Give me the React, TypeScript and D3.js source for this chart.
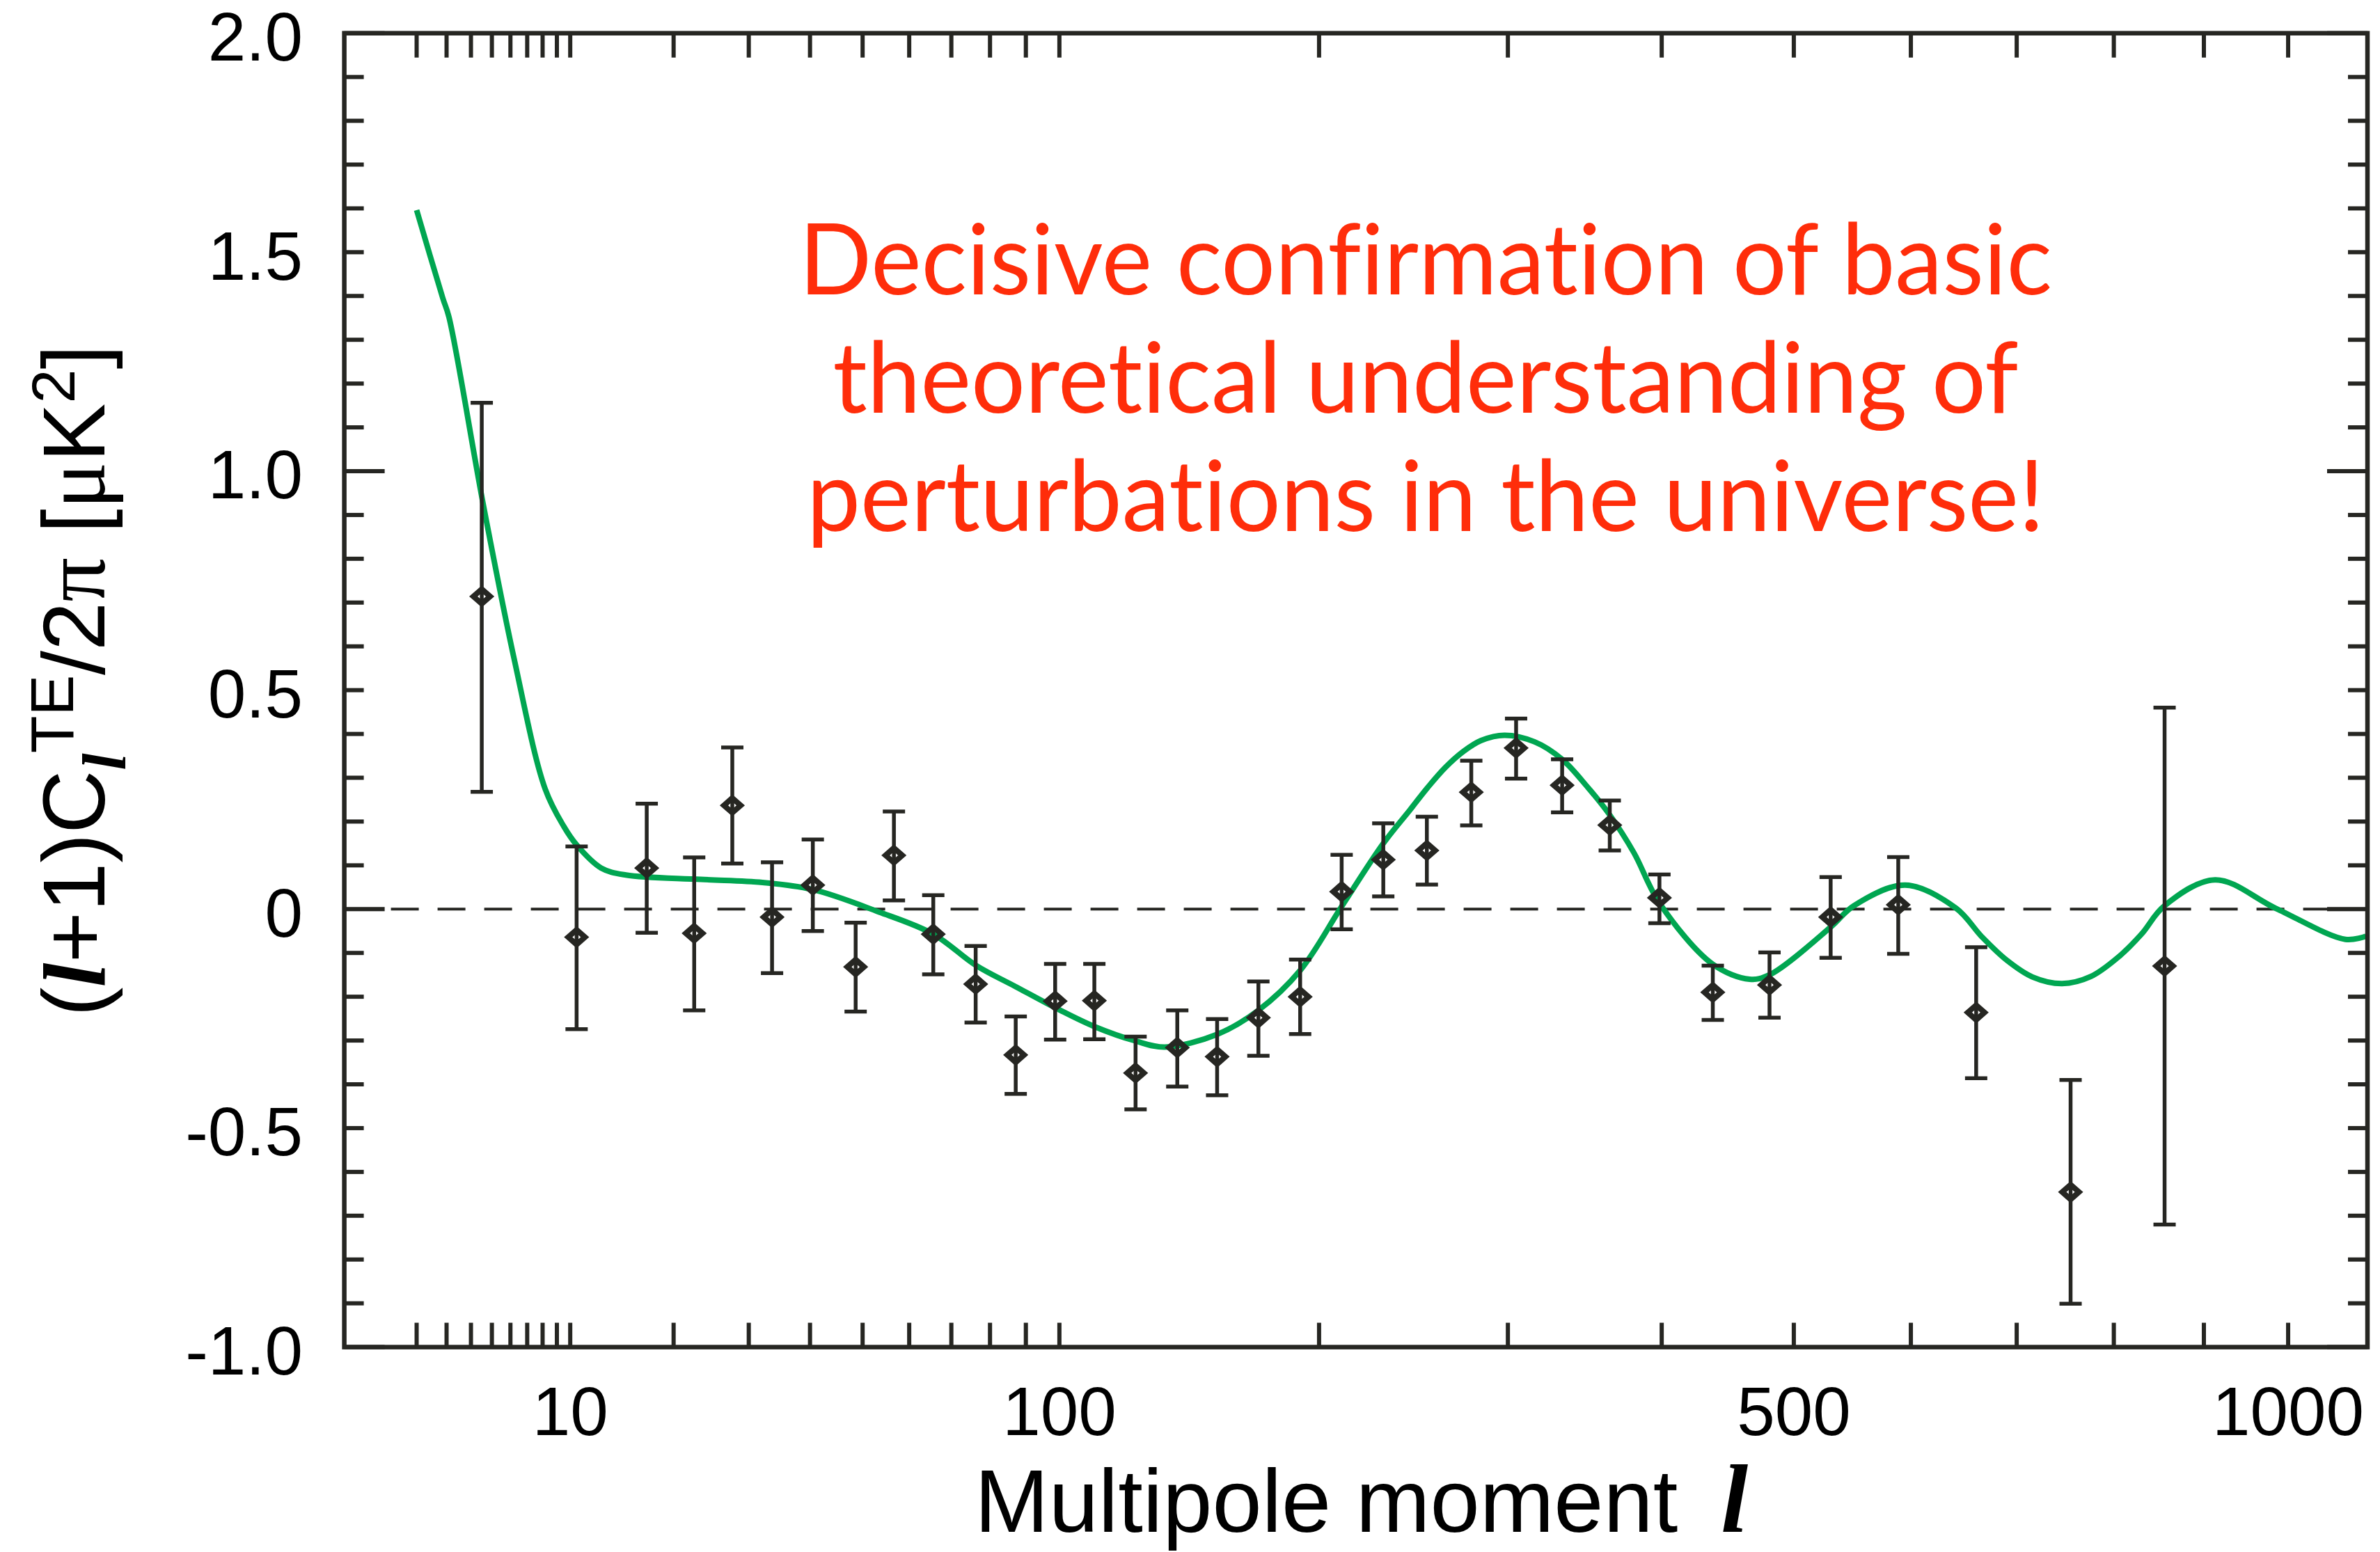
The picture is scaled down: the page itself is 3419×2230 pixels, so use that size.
import * as d3 from "d3"

// Binned TE cross-power data
const binL = [4.5, 10.5, 17.0, 22.5, 27.6, 33.6, 40.5, 48.6, 56.6, 65.6, 76.2, 87.1, 98.7, 111.1, 125.1, 140.3, 155.8, 172.9, 191.3, 210.7, 231.3, 254.1, 278.7, 304.9, 333.3, 364.3, 398.4, 437.1, 480.6, 530.3, 588.7, 660.6, 754.5, 855.5]
const binTE = [0.714, -0.064, 0.094, -0.055, 0.237, -0.018, 0.055, -0.132, 0.123, -0.057, -0.171, -0.333, -0.21, -0.209, -0.374, -0.316, -0.337, -0.248, -0.2, 0.04, 0.113, 0.134, 0.267, 0.368, 0.283, 0.192, 0.026, -0.19, -0.173, -0.018, 0.01, -0.236, -0.646, -0.13]
const binLow = [0.268, -0.274, -0.054, -0.231, 0.104, -0.146, -0.05, -0.234, 0.02, -0.149, -0.259, -0.422, -0.298, -0.297, -0.457, -0.405, -0.425, -0.335, -0.285, -0.046, 0.029, 0.056, 0.191, 0.298, 0.221, 0.134, -0.032, -0.253, -0.248, -0.111, -0.102, -0.386, -0.901, -0.72]
const binHigh = [1.156, 0.143, 0.241, 0.118, 0.369, 0.107, 0.159, -0.031, 0.223, 0.032, -0.084, -0.245, -0.125, -0.125, -0.291, -0.231, -0.251, -0.165, -0.115, 0.124, 0.196, 0.211, 0.339, 0.435, 0.342, 0.248, 0.079, -0.129, -0.099, 0.073, 0.119, -0.087, -0.39, 0.46]

// Best-fit model curve
const modelL = [2, 2.86, 3.09, 4.56, 6.21, 8.18, 9.51, 10.52, 12.56, 14.88, 23.3, 32.1, 40.4, 53, 65.6, 76.2, 87.1, 98.7, 111.1, 125.1, 135.7, 155.8, 172.9, 191.3, 210.7, 231.3, 245.2, 254.6, 264.3, 274.2, 284.3, 298, 316.1, 333.3, 349.8, 364.3, 380.6, 398.4, 437.1, 465, 480.6, 530.3, 550, 595, 641.6, 666, 690.4, 715.8, 745.8, 775.5, 805.7, 830, 855, 912.9, 984.8, 1071.6, 1098]
const modelTE = [1.596, 1.395, 1.352, 0.927, 0.572, 0.274, 0.189, 0.146, 0.094, 0.078, 0.068, 0.061, 0.045, -0.005, -0.057, -0.128, -0.177, -0.225, -0.268, -0.301, -0.315, -0.286, -0.231, -0.14, 0.006, 0.15, 0.227, 0.278, 0.324, 0.36, 0.385, 0.397, 0.382, 0.342, 0.278, 0.215, 0.129, 0.014, -0.126, -0.16, -0.15, -0.041, 0.008, 0.055, 0.002, -0.063, -0.117, -0.155, -0.17, -0.154, -0.108, -0.057, 0.007, 0.067, 0.002, -0.069, -0.062]

const xTickValues = [2, 3, 4, 5, 6, 7, 8, 9, 10, 20, 30, 40, 50, 60, 70, 80, 90, 100, 200, 300, 400, 500, 600, 700, 800, 900, 1000]
const xLabelValues = [10, 100, 500, 1000]
const yLabelValues = [2, 1.5, 1, 0.5, 0, -0.5, -1]
const yLabelText = ["2.0", "1.5", "1.0", "0.5", "0", "-0.5", "-1.0"]
const noteLines = ["Decisive confirmation of basic", "theoretical understanding of", "perturbations in the universe!"]
const noteWidths = [1800, 1703, 1778]

const W = 3419
const H = 2230
const left = 494.6
const right = 3401
const top = 47.7
const bottom = 1935.6

const ink = "#262622"
const green = "#00a651"
const red = "#ff2d0a"
const sans = "'Liberation Sans', Arial, Helvetica, sans-serif"
const serif = "'Liberation Serif', 'Times New Roman', serif"

export default function App() {
  const x = d3.scalePow().exponent(0.4).domain([0.5, 1100]).range([left, right])
  const y = d3.scaleLinear().domain([-1, 2]).range([bottom, top])

  const line = d3
    .line<[number, number]>()
    .x((d) => x(d[0]))
    .y((d) => y(d[1]))
    .curve(d3.curveCatmullRom.alpha(0.5))
  const modelPath = line(modelL.map((l, i) => [l, modelTE[i]] as [number, number])) || ""

  // y minor ticks every 0.1, long ticks on whole numbers
  const yTicks = d3.range(-10, 21).map((i) => i / 10)

  const dw = 12
  const dh = 10.5
  const diamond = `M0,${-dh}L${dw},0L0,${dh}L${-dw},0Z`

  return (
    <svg width={W} height={H} style={{ position: "absolute", left: 0, top: 0, background: "#fff" }}>
      <defs>
        <clipPath id="plot-clip">
          <rect x={left} y={top} width={right - left} height={bottom - top} />
        </clipPath>
      </defs>

      {/* zero line */}
      <line x1={left} x2={right} y1={y(0)} y2={y(0)} stroke={ink} strokeWidth={4} strokeDasharray="40 27" />

      {/* model */}
      <path d={modelPath} fill="none" stroke={green} strokeWidth={8} clipPath="url(#plot-clip)" />

      {/* data with error bars */}
      <g stroke={ink}>
        {binL.map((l, i) => {
          const cx = x(l)
          return (
            <g key={i}>
              <line x1={cx} x2={cx} y1={y(binLow[i])} y2={y(binHigh[i])} strokeWidth={5.5} />
              <line x1={cx - 16} x2={cx + 16} y1={y(binLow[i])} y2={y(binLow[i])} strokeWidth={5.5} />
              <line x1={cx - 16} x2={cx + 16} y1={y(binHigh[i])} y2={y(binHigh[i])} strokeWidth={5.5} />
              <path d={diamond} transform={`translate(${cx},${y(binTE[i])})`} fill="none" strokeWidth={8} strokeLinejoin="miter" />
            </g>
          )
        })}
      </g>

      {/* frame and ticks */}
      <g stroke={ink} strokeWidth={6}>
        {yTicks.map((v) => {
          const major = Math.abs(v - Math.round(v)) < 1e-6
          const len = major ? 58 : 28
          return (
            <g key={v}>
              <line x1={left} x2={left + len} y1={y(v)} y2={y(v)} />
              <line x1={right} x2={right - len} y1={y(v)} y2={y(v)} />
            </g>
          )
        })}
        {xTickValues.map((v) => (
          <g key={v}>
            <line x1={x(v)} x2={x(v)} y1={top} y2={top + 35} />
            <line x1={x(v)} x2={x(v)} y1={bottom} y2={bottom - 35} />
          </g>
        ))}
        <rect x={left} y={top} width={right - left} height={bottom - top} fill="none" strokeWidth={6.5} />
      </g>

      {/* tick labels */}
      <g fontFamily={sans} fontSize={98} fill="#000">
        {yLabelValues.map((v, i) => (
          <text key={v} x={435} y={y(v)} dy="0.4em" textAnchor="end">
            {yLabelText[i]}
          </text>
        ))}
        {xLabelValues.map((v) => (
          <text key={v} x={x(v)} y={2062} textAnchor="middle">
            {v}
          </text>
        ))}
      </g>

      {/* x title */}
      <text x={1400} y={2201} fontFamily={sans} fontSize={128} fill="#000">
        Multipole moment
        <tspan dx={62} fontFamily={serif} fontStyle="italic" fontWeight="bold" fontSize={140}>
          l
        </tspan>
      </text>

      {/* y title */}
      <text transform="translate(150,978) rotate(-90)" textAnchor="middle" fontFamily={sans} fontSize={126} fill="#000">
        (<tspan fontFamily={serif} fontStyle="italic" fontWeight="bold">l</tspan>+1)C
        <tspan fontFamily={serif} fontStyle="italic" fontWeight="bold" fontSize={88} dy={30}>l</tspan>
        <tspan fontSize={88} dy={-75}>TE</tspan>
        <tspan dy={45}>/2</tspan>
        <tspan fontFamily={serif}>π</tspan> [<tspan fontFamily={serif}>μ</tspan>K
        <tspan fontSize={88} dy={-43}>2</tspan>
        <tspan dy={43}>]</tspan>
      </text>

      {/* annotation */}
      <g
        fontFamily="Lato, 'Open Sans', sans-serif"
        fontSize={141}
        fill={red}
        textAnchor="middle"
        style={{ fontVariantLigatures: "none", fontFeatureSettings: "'liga' 0, 'dlig' 0" }}
      >
        {noteLines.map((t, i) => (
          <text key={i} x={2048} y={423 + i * 170} textLength={noteWidths[i]} lengthAdjust="spacingAndGlyphs">
            {t}
          </text>
        ))}
      </g>
    </svg>
  )
}
